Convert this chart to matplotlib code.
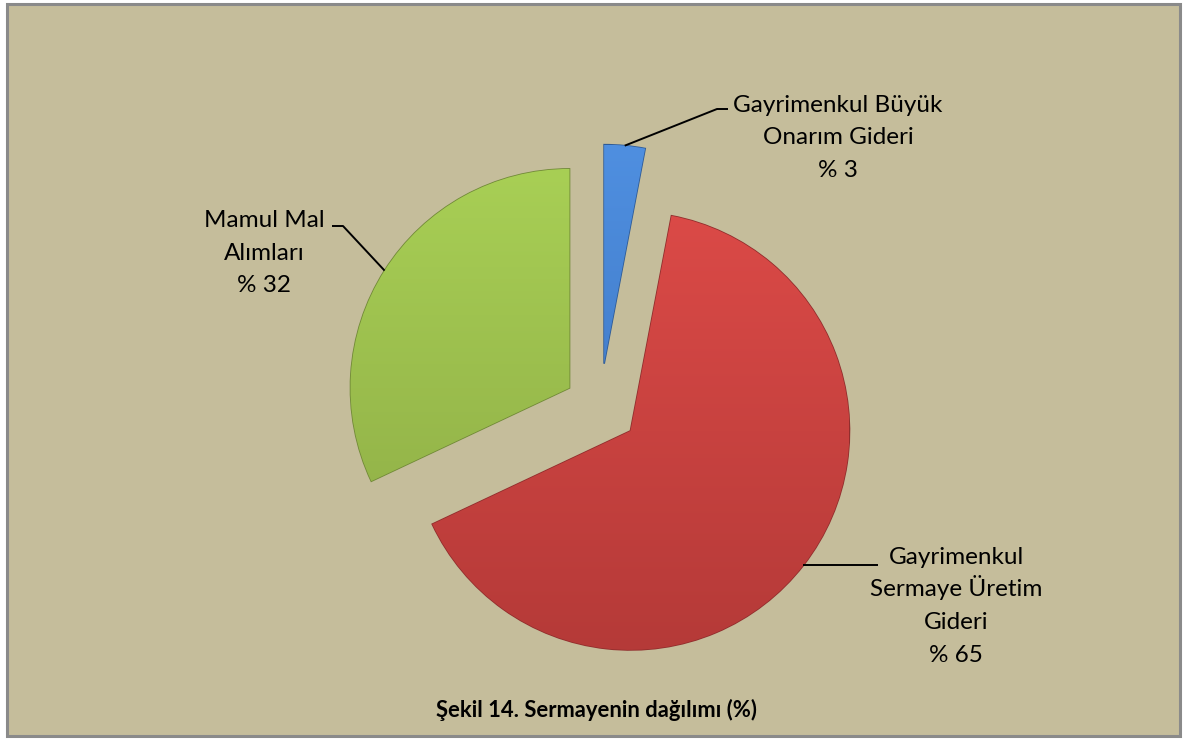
import numpy as np
import matplotlib
matplotlib.use("Agg")
import matplotlib.pyplot as plt
from matplotlib.patches import Rectangle
from matplotlib.colors import to_rgb

# data
labels = [["Gayrimenkul Büyük", "Onarım Gideri"],
          ["Gayrimenkul", "Sermaye Üretim", "Gideri"],
          ["Mamul Mal", "Alımları"]]
values = [3, 65, 32]
colors_top = ["#4F8FE0", "#DB4A47", "#A8CF55"]
colors_bot = ["#3A72BD", "#B53A38", "#8DAB45"]
explode = [0.20, 0.176, 0.165]   # fraction of radius
title = "Şekil 14. Sermayenin dağılımı (%)"

W, H = 1187, 740
bg = "#C5BD9B"
plt.rcParams['font.family'] = ['Lato', 'DejaVu Sans']

fig = plt.figure(figsize=(W / 100, H / 100), dpi=100)
fig.patch.set_facecolor("white")
ax = fig.add_axes([0, 0, 1, 1])

# panel with grey border
ax.add_patch(Rectangle((7, 4), 1173, 732, facecolor=bg, edgecolor="#8a8a8a", lw=2.2, zorder=0))

# pie in pixel coordinates (y axis inverted -> counterclock=True draws clockwise on screen)
cx, cy, r = 600, 407.3, 219
wedges, _ = ax.pie(values, explode=[e * r for e in explode], startangle=-90, counterclock=True,
                   center=(cx, cy), radius=r, colors=colors_top,
                   wedgeprops=dict(linewidth=1.2, zorder=2))

for w, ct, cb in zip(wedges, colors_top, colors_bot):
    w.set_edgecolor(tuple(np.array(to_rgb(cb)) * 0.8))
    c0, c1 = np.array(to_rgb(ct)), np.array(to_rgb(cb))
    t = np.linspace(0, 1, 256)[:, None, None]
    grad = c0 * (1 - t) + c1 * t
    wx, wy = w.center
    im = ax.imshow(grad, extent=(wx - r, wx + r, wy + r, wy - r), origin="upper",
                   aspect="auto", zorder=2.5, interpolation="bilinear")
    im.set_clip_path(w)

ax.set_xlim(0, W)
ax.set_ylim(H, 0)
ax.set_aspect("auto")
ax.axis("off")

def anchor(w):
    th = np.deg2rad((w.theta1 + w.theta2) / 2)
    return w.center[0] + w.r * np.cos(th), w.center[1] + w.r * np.sin(th)

def label_block(x, y0, lines, step=32.5, fs=17.5):
    # y0 is the baseline of the first line
    for i, s in enumerate(lines):
        ax.text(x, y0 + i * step, s, ha="center", va="baseline", fontsize=fs, zorder=5)

line_kw = dict(color="black", lw=1.4, zorder=4, solid_capstyle="butt")

# blue label
ax_, ay_ = anchor(wedges[0])
ax.plot([ax_, 717, 728], [ay_, 109, 109], **line_kw)
label_block(838, 112, labels[0] + ["% " + str(values[0])])

# red label
ax_, ay_ = anchor(wedges[1])
ax.plot([ax_, 878], [ay_, ay_], **line_kw)
label_block(956, 564, labels[1] + ["% " + str(values[1])])

# green label
ax_, ay_ = anchor(wedges[2])
ax.plot([ax_, 343, 332], [ay_, 226, 226], **line_kw)
label_block(264, 227, labels[2] + ["% " + str(values[2])])

ax.text(597, 710, title, ha="center", va="center", fontsize=15.8, fontweight="bold", zorder=5)

fig.savefig("out.png", dpi=100, facecolor=fig.get_facecolor())
